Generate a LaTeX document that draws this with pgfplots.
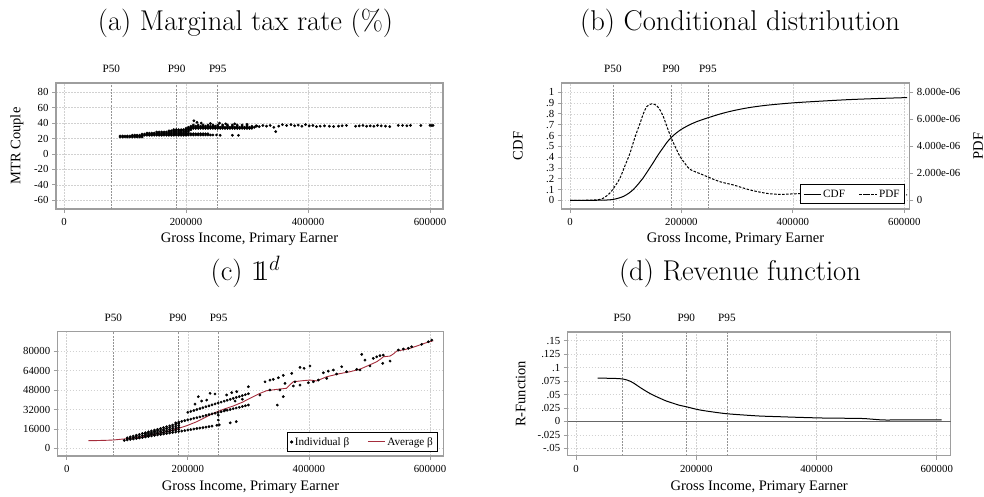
\documentclass[border=0pt]{standalone}
\usepackage{pgfplots}
\pgfplotsset{compat=1.18}
\usepackage{fontspec}
\newfontfamily\pal{Liberation Serif}
\definecolor{framegray}{gray}{0.62}
\definecolor{gridgray}{gray}{0.82}
\definecolor{plinegray}{gray}{0.58}
\definecolor{zerogray}{gray}{0.40}
\definecolor{avgred}{RGB}{165,45,60}
\tikzset{plinesty/.style={plinegray, line width=0.6pt, dash pattern=on 2pt off 1.2pt}}
\pgfplotsset{
 stata/.style={
   scale only axis,
   tick pos=left,
   tick align=outside,
   major tick length=4pt,
   tick style={framegray, line width=0.8pt},
   axis line style={framegray, line width=1.2pt},
   grid=major,
   major grid style={gridgray, dash pattern=on 1.5pt off 1.5pt, line width=0.6pt},
   tick label style={font=\pal\fontsize{10.8}{12}\selectfont, text=black},
   xticklabel shift=2pt,
   label style={font=\pal\fontsize{14.5}{16}\selectfont},
   /pgf/number format/assume math mode=true,
   xtick={0,200000,400000,600000},
   xticklabels={0,200000,400000,600000},
   scaled ticks=false,
   clip=false,
   legend style={font=\pal\fontsize{11.2}{13}\selectfont, draw=black, line width=0.8pt, fill=white, inner sep=3pt},
 },
}
\newcommand\plines[5]{%
 \draw[plinesty] (axis cs:#1,#4) -- (axis cs:#1,#5);
 \draw[plinesty] (axis cs:#2,#4) -- (axis cs:#2,#5);
 \draw[plinesty] (axis cs:#3,#4) -- (axis cs:#3,#5);
 \node[anchor=base, yshift=10pt, font=\pal\fontsize{11.2}{12}\selectfont] at (axis cs:#1,#5) {P50};
 \node[anchor=base, yshift=10pt, font=\pal\fontsize{11.2}{12}\selectfont] at (axis cs:#2,#5) {P90};
 \node[anchor=base, yshift=10pt, font=\pal\fontsize{11.2}{12}\selectfont] at (axis cs:#3,#5) {P95};
}
\begin{document}
\begin{tikzpicture}
\useasboundingbox (0pt,0pt) rectangle (984pt,497pt);
\node[anchor=base, font=\fontsize{28.6}{34}\selectfont] at (245.5pt,466pt) {(a) Marginal tax rate (\%)};
\node[anchor=base, font=\fontsize{28.6}{34}\selectfont] at (740pt,466pt) {(b) Conditional distribution};
\node[anchor=base, font=\fontsize{28.6}{34}\selectfont] at (245.5pt,216pt) {(c) $\mathrm{1\!\!1}^d$};
\node[anchor=base, font=\fontsize{28.6}{34}\selectfont] at (740pt,216pt) {(d) Revenue function};

% ---------------- (a)
\begin{axis}[stata, at={(56pt,288pt)}, anchor=south west, width=387pt, height=126pt,
  xmin=-13100, xmax=621300, ymin=-71.3, ymax=92,
  ytick={-60,-40,-20,0,20,40,60,80}, yticklabels={-60,-40,-20,0,20,40,60,80},
  ylabel={MTR Couple}, xlabel={Gross Income, Primary Earner},
  ylabel style={at={(axis description cs:-0.1008,0.5)}, anchor=center},
  xlabel style={at={(axis description cs:0.5,-0.265)}, anchor=base}]
\plines{77500}{184700}{252000}{-71.3}{92}
\addplot[only marks, mark=*, mark size=1.2pt, black] coordinates {
(92000,22)(96000,22)(100000,22)(104000,22)(108000,22)(112000,22)(116000,22)(120000,22)(124000,22)(128000,22)
(92000,23.3)(96000,23.3)(100000,23.3)(104000,23.3)(108000,23.3)(112000,23.3)(116000,23.3)(120000,23.3)(124000,23.3)(128000,23.3)
(112000,24.3)(116000,24.3)(120000,24.3)(124000,24.3)(128000,24.3)(132000,24.3)(136000,24.3)(140000,24.3)(144000,24.3)(148000,24.3)(152000,24.3)(156000,24.3)(160000,24.3)(164000,24.3)(168000,24.3)(172000,24.3)(176000,24.3)(180000,24.3)(184000,24.3)(188000,24.3)(192000,24.3)(196000,24.3)(200000,24.3)
(128000,25.7)(132000,25.7)(136000,25.7)(140000,25.7)(144000,25.7)(148000,25.7)(152000,25.7)(156000,25.7)(160000,25.7)(164000,25.7)(168000,25.7)(172000,25.7)(176000,25.7)(180000,25.7)(184000,25.7)(188000,25.7)(192000,25.7)(196000,25.7)(200000,25.7)
(136000,27)(140000,27)(144000,27)(148000,27)(152000,27)(156000,27)(160000,27)(164000,27)(168000,27)(172000,27)(176000,27)(180000,27)(184000,27)(188000,27)(192000,27)(196000,27)(200000,27)
(152000,28.5)(156000,28.5)(160000,28.5)(164000,28.5)(168000,28.5)(172000,28.5)(176000,28.5)(180000,28.5)(184000,28.5)(188000,28.5)(192000,28.5)(196000,28.5)(200000,28.5)(204000,28.5)
(172000,30)(176000,30)(180000,30)(184000,30)(188000,30)(192000,30)(196000,30)(200000,30)(204000,30)
(180000,31.5)(184000,31.5)(188000,31.5)(192000,31.5)(196000,31.5)(200000,31.5)(204000,31.5)(208000,31.5)
(200000,33.2)(204000,33.2)(208000,33.2)(212000,33.2)(216000,33.2)(220000,33.2)(224000,33.2)(228000,33.2)(232000,33.2)(236000,33.2)(240000,33.2)(244000,33.2)(248000,33.2)(252000,33.2)(256000,33.2)(260000,33.2)(264000,33.2)(268000,33.2)(272000,33.2)(276000,33.2)(280000,33.2)(284000,33.2)(288000,33.2)(292000,33.2)(296000,33.2)(300000,33.2)(304000,33.2)(308000,33.2)
(204000,34.6)(208000,34.6)(212000,34.6)(216000,34.6)(220000,34.6)(224000,34.6)(228000,34.6)(232000,34.6)(236000,34.6)(240000,34.6)(244000,34.6)(248000,34.6)(252000,34.6)(256000,34.6)(260000,34.6)(264000,34.6)(268000,34.6)(272000,34.6)(276000,34.6)(280000,34.6)(284000,34.6)(288000,34.6)(292000,34.6)(296000,34.6)(300000,34.6)(304000,34.6)(308000,34.6)(312000,34.6)
(208000,36)(212000,36)(216000,36)(220000,36)(224000,36)(228000,36)(232000,36)(236000,36)(240000,36)(244000,36)(248000,36)(252000,36)(260000,36)(268000,36)(276000,36)(284000,36)(292000,36)(300000,36)(308000,36)(316000,36)
(212000,37.5)(220000,37.5)(228000,37.5)(236000,37.5)(244000,37.5)(252000,37.5)(260000,37.5)(268000,37.5)(276000,37.5)(284000,37.5)(292000,37.5)(300000,37.5)
(200000,24.6)(204000,24.6)(208000,24.6)(212000,24.6)(216000,24.6)(220000,24.6)(224000,24.6)(228000,24.6)(232000,24.6)(236000,24.6)(240000,24.6)(244000,24.6)(250000,24.6)(256000,24.2)(276000,24.2)(286000,24.2)
(200000,26.2)(204000,26.2)(208000,26.2)(212000,26.2)(216000,26.2)(220000,26.2)(224000,26.2)(228000,26.2)(232000,26.2)(236000,26.2)
(213000,43)(218000,41)(225000,40)(240000,39.5)(255000,40)(265000,39)(280000,39)(300000,38.5)
(315000,36.5)(320000,35.5)(326000,37)(332000,36)(338000,37)(344000,34.5)(347000,29)(352000,36)(358000,38)(365000,37)(372000,38)(378000,36.5)(384000,37.5)(390000,36)(396000,38)(402000,36.5)(408000,37)(414000,35.5)(420000,36)(427000,36.5)(435000,36)(442000,35.5)(450000,36)(456000,36.5)(463000,37)(478000,36)(484000,36.5)(490000,37)(496000,36)(502000,36.5)(508000,36)(514000,37)(520000,36.5)(527000,36)(534000,35.5)(548000,37)(555000,37)(562000,36.5)(568000,37)(585000,37)(600000,37)(603000,37)(605000,37)
};
\end{axis}

% ---------------- (b)
\begin{axis}[stata, at={(561.7pt,288pt)}, anchor=south west, width=347.6pt, height=126pt,
  xmin=-14900, xmax=609000, ymin=-0.08, ymax=1.086,
  ytick={0,0.1,0.2,0.3,0.4,0.5,0.6,0.7,0.8,0.9,1}, yticklabels={0,.1,.2,.3,.4,.5,.6,.7,.8,.9,1},
  ylabel={CDF}, xlabel={Gross Income, Primary Earner},
  ylabel style={at={(axis description cs:-0.1257,0.5)}, anchor=center},
  xlabel style={at={(axis description cs:0.5,-0.265)}, anchor=base}]
\plines{77000}{181500}{247500}{-0.08}{1.086}
\addplot[black, line width=1pt, smooth] coordinates {
(0,0)(40000,0.0005)(60000,0.002)(71800,0.005)(80000,0.011)(88000,0.022)(95700,0.036)(105000,0.064)(113600,0.1)(122000,0.148)(131600,0.21)(140000,0.275)(149500,0.35)(158000,0.42)(167500,0.49)(176000,0.55)(185400,0.6)(195000,0.64)(203300,0.668)(215000,0.7)(227300,0.728)(246400,0.762)(270000,0.8)(293100,0.83)(320000,0.857)(352900,0.88)(400000,0.902)(450000,0.918)(500000,0.932)(550000,0.942)(605000,0.951)
};
\end{axis}
\begin{axis}[stata, at={(561.7pt,288pt)}, anchor=south west, width=347.6pt, height=126pt,
  xmin=-14900, xmax=609000, ymin=-0.64, ymax=8.69,
  axis y line*=right, axis x line=none, grid=none,
  ytick pos=right, yticklabel pos=right,
  ytick={0,2,4,6,8}, yticklabels={0,2.000e-06,4.000e-06,6.000e-06,8.000e-06},
  ylabel={PDF},
  ylabel style={at={(axis description cs:1.1977,0.5)}, anchor=center},
  legend columns=2,
  legend style={at={(0.9876,0.04)}, anchor=south east, /tikz/every even column/.append style={column sep=12pt}}]
\addlegendimage{black, line width=1pt}
\addlegendentry{CDF}
\addplot[black, line width=1pt, smooth, dash pattern=on 2.5pt off 1.5pt] coordinates {
(0,0)(30000,0.01)(53800,0.07)(63000,0.25)(71800,0.55)(80000,1.0)(89700,1.65)(98000,2.5)(107700,3.5)(116000,4.6)(125600,5.7)(132000,6.45)(138000,6.95)(146000,7.14)(153000,7.08)(160000,6.8)(167500,6.2)(174000,5.45)(181000,4.7)(189000,3.95)(197400,3.25)(206000,2.75)(215300,2.3)(235000,1.95)(246400,1.75)(269200,1.38)(293100,1.14)(323000,0.77)(352900,0.52)(376900,0.44)(400800,0.48)(430000,0.52)(460000,0.48)(500000,0.45)(560000,0.42)(605000,0.4)
};
\addlegendentry{PDF}
\end{axis}

% ---------------- (c)
\begin{axis}[stata, at={(57.7pt,41pt)}, anchor=south west, width=385.6pt, height=124.3pt,
  xmin=-14900, xmax=622000, ymin=-6350, ymax=96200,
  ytick={0,16000,32000,48000,64000,80000}, yticklabels={0,16000,32000,48000,64000,80000},
  xlabel={Gross Income, Primary Earner},
  xlabel style={at={(axis description cs:0.5,-0.28)}, anchor=base},
  legend columns=2,
  legend style={at={(0.987,0.032)}, anchor=south east, /tikz/every even column/.append style={column sep=16pt}}]
\plines{77000}{183500}{251000}{-6350}{96200}
\addplot[only marks, mark=*, mark size=1.2pt, black] coordinates {
(95000,6500)(100000,6900)(105000,7300)(110000,7700)(115000,8100)(120000,8550)(125000,8950)(130000,9350)(135000,9750)(140000,10150)(145000,10600)(150000,11000)(155000,11400)(160000,11800)(165000,12200)(170000,12600)(175000,13000)(180000,13400)(185000,13850)(190000,14250)(195000,14650)(200000,15050)(205000,15450)(210000,15850)(215000,16300)(220000,16700)(225000,17100)(230000,17500)(235000,17900)(240000,18300)(248000,19000)(252000,19300)(270000,21000)(280000,22000)
(100000,7800)(105000,8350)(110000,8900)(115000,9450)(120000,10025)(125000,10575)(130000,11125)(135000,11675)(140000,12225)(145000,12800)(150000,13350)(155000,13900)(160000,14450)(165000,15000)(170000,15550)(175000,16100)(180000,16650)(185000,17225)
(100000,8700)(105000,9400)(110000,10100)(115000,10800)(120000,11500)(125000,12200)(130000,12900)(135000,13600)(140000,14300)(145000,15000)(150000,15700)(155000,16400)(160000,17100)(165000,17800)(170000,18500)(175000,19200)(180000,19900)(185000,20600)
(130000,10240)(135000,10710)(140000,11190)(145000,11700)(150000,12175)(155000,12650)(160000,13125)(165000,13600)(170000,14075)(175000,14550)(180000,15025)(185000,15540)
(130000,12010)(135000,12640)(140000,13260)(145000,13900)(150000,14525)(155000,15150)(160000,15775)(165000,16400)(170000,17025)(175000,17650)(180000,18275)(185000,18900)
(180000,21000)(185000,21600)(190000,22200)(195000,22850)(200000,23450)(205000,24050)(210000,24700)(215000,25300)(220000,25900)(225000,26500)(230000,27100)(235000,27750)(240000,28350)(245000,28950)(250000,29600)(255000,30200)(260000,30800)(265000,31400)(270000,32000)(275000,32650)(280000,33250)(285000,33850)(290000,34500)(295000,35100)(300000,35700)
(200000,29700)(205000,30450)(210000,31200)(215000,32000)(220000,32750)(225000,33500)(230000,34300)(235000,35050)(240000,35800)(245000,36600)(250000,37350)(255000,38100)(260000,38900)(265000,39650)(270000,40400)(275000,41150)(280000,41950)(285000,42700)(290000,43450)(295000,44250)(300000,45000)
(211900,36500)(217400,42600)(222900,39000)(231200,39800)(236700,45400)(244900,44800)(250400,23300)(250400,27400)(261400,31600)(264200,44000)(272500,45900)(280800,46700)(300000,50800)(278000,39000)(290000,40500)
(319200,43950)(327500,54900)(335700,56300)(341200,56900)(349500,58200)(357700,60200)(371600,61800)(385300,66800)(392000,66000)(401800,67900)
(335700,48100)(352200,48100)(360500,53600)(357700,42600)(347800,35700)(374200,51400)(377000,54900)(385300,52200)(399000,54100)(407300,54900)(415600,56300)(423800,62300)(429400,57700)(432000,63700)(440300,64600)(445900,61300)(454200,67300)(462400,63200)(478900,65100)(484400,64600)(487200,77500)(492600,72800)(500900,67900)(506400,74200)(512000,75500)(517400,76400)(522900,76900)(521900,70100)(534000,72000)(547700,81100)(556000,81900)(564300,82500)(569800,83800)(586300,85800)(597300,87900)(602800,89300)
};
\addlegendentry{Individual β}
\addplot[avgred, line width=0.9pt] coordinates {
(35700,6270)(50000,6400)(65000,6600)(77000,6850)(90000,7500)(105000,8200)(121000,9070)(140000,11000)(160000,13200)(176000,15100)(198000,18600)(215000,22000)(230000,25800)(242000,28860)(258000,32000)(275000,34900)(290000,38000)(308000,42600)(320000,45500)(330000,47500)(345000,48500)(363000,49500)(368000,52000)(374000,54900)(390000,55800)(402000,56300)(413000,55600)(422000,57500)(429000,59000)(450000,61500)(468000,63200)(484000,65200)(500000,68700)(512000,71400)(518000,73500)(523000,75500)(534000,76100)(540000,78000)(545000,80250)(556000,81200)(567000,82500)(583000,85200)(595000,87300)(605500,88750)
};
\addlegendentry{Average β}
\end{axis}

% ---------------- (d)
\begin{axis}[stata, at={(567.7pt,41.3pt)}, anchor=south west, width=383pt, height=123.7pt,
  xmin=-13800, xmax=623300, ymin=-0.0636, ymax=0.166,
  ytick={-0.05,-0.025,0,0.025,0.05,0.075,0.1,0.125,0.15}, yticklabels={-.05,-.025,0,.025,.05,.075,.1,.125,.15},
  ylabel={R-Function}, xlabel={Gross Income, Primary Earner},
  ylabel style={at={(axis description cs:-0.1227,0.5)}, anchor=center},
  xlabel style={at={(axis description cs:0.5,-0.28)}, anchor=base}]
\plines{77000}{183500}{251000}{-0.0636}{0.166}
\addplot[zerogray, line width=0.9pt] coordinates {(-13800,0)(623300,0)};
\addplot[black, line width=1pt, smooth] coordinates {
(36000,0.0803)(60000,0.0800)(76000,0.0790)(86000,0.0765)(95400,0.0715)(106000,0.0635)(117600,0.0554)(128000,0.049)(139700,0.043)(150000,0.038)(162000,0.0336)(172000,0.030)(183000,0.0274)(195000,0.024)(206300,0.0212)(228000,0.0175)(250700,0.0143)(278000,0.0120)(306100,0.0100)(340000,0.0087)(372600,0.0075)(417000,0.0062)(472500,0.0056)(494600,0.0040)(511300,0.0027)(540000,0.0028)(575000,0.0030)(608300,0.0027)
};
\end{axis}
\end{tikzpicture}
\end{document}
